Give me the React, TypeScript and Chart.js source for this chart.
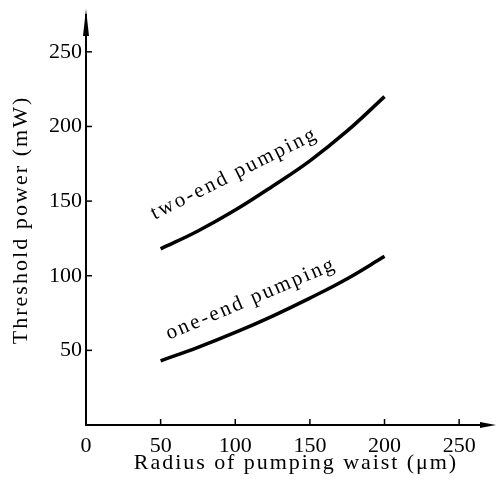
import React, { useEffect, useRef } from "react";
import { Chart, registerables } from "chart.js";

Chart.register(...registerables);

const radius = [50, 75, 100, 125, 150, 175, 200];
const twoEnd = [118, 130, 144, 160, 177, 197, 220];
const oneEnd = [43, 52, 62, 73, 85, 98, 113];
const xTicks = [0, 50, 100, 150, 200, 250];
const yTicks = [50, 100, 150, 200, 250];
const xTitle = "Radius of pumping waist (\u03bcm)";
const yTitle = "Threshold power (mW)";
const labelTwo = { text: "two-end pumping", x: 101, y: 165, angle: -26.5 };
const labelOne = { text: "one-end pumping", x: 112, y: 81, angle: -23 };

const FONT = "'Liberation Serif', 'DejaVu Serif', serif";

const axesPlugin = {
  id: "axesPlugin",
  afterDraw(chart: any) {
    const ctx = chart.ctx;
    const xs = chart.scales.x;
    const ys = chart.scales.y;
    const x0 = xs.getPixelForValue(0);
    const y0 = ys.getPixelForValue(0);
    ctx.save();
    ctx.strokeStyle = "#000";
    ctx.fillStyle = "#000";
    ctx.lineWidth = 2;
    // y axis
    ctx.beginPath();
    ctx.moveTo(x0, y0 + 1);
    ctx.lineTo(x0, 14);
    ctx.stroke();
    ctx.beginPath();
    ctx.moveTo(x0, 9);
    ctx.lineTo(x0 - 3, 36);
    ctx.lineTo(x0 + 3, 36);
    ctx.closePath();
    ctx.fill();
    // x axis
    ctx.beginPath();
    ctx.moveTo(x0 - 1, y0);
    ctx.lineTo(490, y0);
    ctx.stroke();
    ctx.beginPath();
    ctx.moveTo(496, y0);
    ctx.lineTo(480, y0 - 3);
    ctx.lineTo(480, y0 + 3);
    ctx.closePath();
    ctx.fill();
    // ticks inward
    ctx.lineWidth = 1.5;
    yTicks.forEach((v) => {
      const p = ys.getPixelForValue(v);
      ctx.beginPath();
      ctx.moveTo(x0, p);
      ctx.lineTo(x0 + 6, p);
      ctx.stroke();
    });
    xTicks.forEach((v) => {
      if (v === 0) return;
      const p = xs.getPixelForValue(v);
      ctx.beginPath();
      ctx.moveTo(p, y0);
      ctx.lineTo(p, y0 - 6);
      ctx.stroke();
    });
    // titles
    ctx.font = `22px ${FONT}`;
    ctx.textAlign = "center";
    ctx.textBaseline = "middle";
    ctx.letterSpacing = "1.95px";
    ctx.fillText(xTitle, 296, 463);
    ctx.save();
    ctx.letterSpacing = "2.05px";
    ctx.translate(21, 220);
    ctx.rotate(-Math.PI / 2);
    ctx.fillText(yTitle, 0, 0);
    ctx.restore();
    // curve labels
    ctx.letterSpacing = "2.35px";
    ctx.font = `21px ${FONT}`;
    ctx.textBaseline = "alphabetic";
    [labelTwo, labelOne].forEach((l) => {
      ctx.save();
      ctx.translate(xs.getPixelForValue(l.x), ys.getPixelForValue(l.y));
      ctx.rotate((l.angle * Math.PI) / 180);
      ctx.fillText(l.text, 0, 0);
      ctx.restore();
    });
    ctx.restore();
  },
};

export default function App() {
  const ref = useRef<HTMLCanvasElement>(null);
  useEffect(() => {
    document.body.style.margin = "0";
    const chart = new Chart(ref.current!, {
      type: "line",
      data: {
        datasets: [
          {
            data: radius.map((r, i) => ({ x: r, y: twoEnd[i] })),
            borderColor: "#000",
            borderWidth: 3.5,
            pointRadius: 0,
            tension: 0.4,
            fill: false,
          },
          {
            data: radius.map((r, i) => ({ x: r, y: oneEnd[i] })),
            borderColor: "#000",
            borderWidth: 3.5,
            pointRadius: 0,
            tension: 0.4,
            fill: false,
          },
        ],
      },
      options: {
        animation: false,
        responsive: false,
        maintainAspectRatio: false,
        layout: { padding: { top: 19, right: 7, left: 0, bottom: 0 } },
        plugins: { legend: { display: false }, tooltip: { enabled: false } },
        scales: {
          x: {
            type: "linear",
            min: 0,
            max: 270,
            grid: { display: false, drawTicks: false },
            border: { display: false },
            afterBuildTicks: (s: any) => {
              s.ticks = xTicks.map((v) => ({ value: v }));
            },
            afterFit: (s: any) => {
              s.height = 60;
            },
            ticks: {
              color: "#000",
              padding: 8,
              maxRotation: 0,
              font: { family: FONT, size: 22 },
            },
          },
          y: {
            type: "linear",
            min: 0,
            max: 272,
            grid: { display: false, drawTicks: false },
            border: { display: false },
            afterBuildTicks: (s: any) => {
              s.ticks = yTicks.map((v) => ({ value: v }));
            },
            afterFit: (s: any) => {
              s.width = 86;
            },
            ticks: {
              color: "#000",
              padding: 4,
              font: { family: FONT, size: 22 },
            },
          },
        },
      },
      plugins: [axesPlugin],
    });
    return () => chart.destroy();
  }, []);
  return <canvas ref={ref} width={496} height={485} style={{ display: "block" }} />;
}
